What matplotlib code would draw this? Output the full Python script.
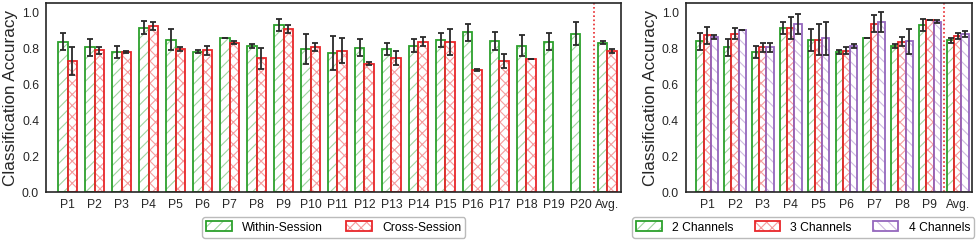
import numpy as np
import matplotlib
matplotlib.use("Agg")
import matplotlib.pyplot as plt
from matplotlib.patches import Patch
from matplotlib.legend_handler import HandlerTuple

plt.rcParams['font.family'] = ['Liberation Sans', 'DejaVu Sans']
plt.rcParams['hatch.linewidth'] = 0.8

# left panel: per participant, within vs cross session
subj_l = ["P%d" % i for i in range(1, 21)] + ["Avg."]
within_mean = [0.837, 0.805, 0.781, 0.915, 0.848, 0.781, 0.855, 0.813, 0.931, 0.796,
               0.772, 0.803, 0.796, 0.813, 0.846, 0.889, 0.839, 0.815, 0.837, 0.881, 0.831]
within_err = [0.048, 0.046, 0.033, 0.036, 0.058, 0.010, 0.000, 0.010, 0.033, 0.083,
              0.094, 0.046, 0.035, 0.036, 0.037, 0.048, 0.049, 0.060, 0.049, 0.064, 0.008]
cross_mean = [0.729, 0.789, 0.779, 0.924, 0.796, 0.789, 0.831, 0.744, 0.905, 0.805,
              0.787, 0.713, 0.746, 0.837, 0.837, 0.679, 0.729, 0.739, np.nan, np.nan, 0.783]
cross_err = [0.080, 0.020, 0.008, 0.020, 0.010, 0.026, 0.008, 0.058, 0.022, 0.022,
             0.071, 0.008, 0.038, 0.023, 0.072, 0.006, 0.037, 0.000, np.nan, np.nan, 0.011]

# right panel: channel count comparison
subj_r = ["P%d" % i for i in range(1, 10)] + ["Avg."]
ch2_mean = [0.839, 0.805, 0.779, 0.913, 0.846, 0.779, 0.855, 0.813, 0.931, 0.844]
ch2_err = [0.047, 0.049, 0.034, 0.034, 0.059, 0.010, 0.000, 0.010, 0.034, 0.015]
ch3_mean = [0.872, 0.881, 0.805, 0.913, 0.846, 0.787, 0.937, 0.837, 0.955, 0.870]
ch3_err = [0.048, 0.031, 0.024, 0.060, 0.086, 0.020, 0.048, 0.023, 0.000, 0.017]
ch4_mean = [0.864, 0.903, 0.805, 0.933, 0.855, 0.813, 0.946, 0.839, 0.948, 0.879]
ch4_err = [0.010, 0.000, 0.024, 0.056, 0.093, 0.010, 0.056, 0.070, 0.010, 0.016]

GREEN = '#2ca02c'
RED = '#e8262a'
PURPLE = '#9467bd'
ECOL = '#2a2a2a'
SPINE = '#262626'


def hatched_bars(ax, x, h, err, w, color, hatch):
    # hatch drawn faint, outline drawn at full strength
    ax.bar(x, h, w, facecolor='white', edgecolor=color, hatch=hatch,
           linewidth=0, alpha=0.45)
    ax.bar(x, h, w, facecolor='none', edgecolor=color, linewidth=1.3)
    ax.errorbar(x, h, yerr=err, fmt='none', ecolor=ECOL, elinewidth=1.3,
                capsize=2, capthick=1.3)
    return (Patch(facecolor='white', edgecolor=color, hatch=hatch, alpha=0.45, linewidth=0),
            Patch(facecolor='none', edgecolor=color, linewidth=1.3))


def style(ax, labels, xmin, xmax, sep):
    ax.set_xlim(xmin, xmax)
    ax.set_ylim(0, 1.053)
    ax.set_xticks(np.arange(len(labels)))
    ax.set_xticklabels(labels)
    ax.set_yticks([0, 0.2, 0.4, 0.6, 0.8, 1.0])
    ax.set_yticklabels(["0.0", "0.2", "0.4", "0.6", "0.8", "1.0"])
    ax.tick_params(length=0, labelsize=8.7, colors=SPINE, pad=5)
    ax.set_ylabel("Classification Accuracy", fontsize=12.3, color=SPINE, labelpad=3)
    ax.axvline(sep, color=RED, linestyle=(0, (1, 1.5)), linewidth=1.2)
    for s in ax.spines.values():
        s.set_color(SPINE)
        s.set_linewidth(1.2)


fig = plt.figure(figsize=(9.76, 2.4), dpi=100)
ax1 = fig.add_axes([0.0471, 0.1988, 0.5891, 0.790])
ax2 = fig.add_axes([0.7026, 0.1988, 0.2930, 0.790])

x1 = np.arange(len(subj_l))
bw = 0.36
h_w = hatched_bars(ax1, x1 - bw / 2, within_mean, within_err, bw, GREEN, '///')
h_c = hatched_bars(ax1, x1 + bw / 2, cross_mean, cross_err, bw, RED, 'xxx')
style(ax1, subj_l, -0.8, 20.5, 19.5)

x2 = np.arange(len(subj_r))
bw2 = 0.26
h2 = hatched_bars(ax2, x2 - bw2, ch2_mean, ch2_err, bw2, GREEN, '///')
h3 = hatched_bars(ax2, x2, ch3_mean, ch3_err, bw2, RED, 'xxx')
h4 = hatched_bars(ax2, x2 + bw2, ch4_mean, ch4_err, bw2, PURPLE, '\\\\\\')
style(ax2, subj_r, -0.77, 9.5, 8.5)

leg_kw = dict(loc='upper center', fontsize=8.7, handlelength=2.1, handleheight=0.9,
              handler_map={tuple: HandlerTuple(ndivide=1, pad=0)},
              edgecolor='#aaaaaa', fancybox=True, borderpad=0.35,
              handletextpad=0.85, borderaxespad=0.3)
fig.legend([h_w, h_c], ["Within-Session", "Cross-Session"], ncol=2,
           bbox_to_anchor=(0.342, 0.11), columnspacing=1.95, **leg_kw)
fig.legend([h2, h3, h4], ["2 Channels", "3 Channels", "4 Channels"], ncol=3,
           bbox_to_anchor=(0.823, 0.11), columnspacing=1.75, **leg_kw)

fig.savefig("out.png", dpi=100)
